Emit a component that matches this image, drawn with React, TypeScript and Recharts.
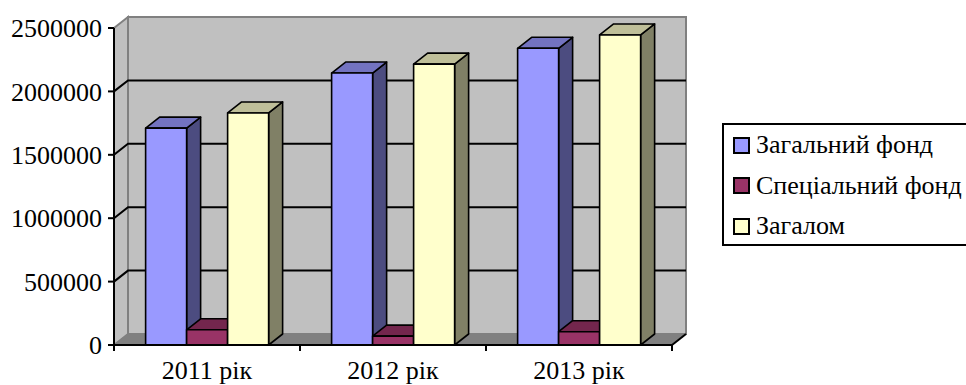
import React from 'react';
import { BarChart, Bar, XAxis, YAxis, CartesianGrid, ReferenceArea } from 'recharts';

const years = ['2011 рік', '2012 рік', '2013 рік'];
const generalFund = [1710000, 2145000, 2340000];
const specialFund = [120000, 70000, 105000];
const totalFund = [1830000, 2215000, 2445000];
const yTicks = [0, 500000, 1000000, 1500000, 2000000, 2500000];
const gridValues = [500000, 1000000, 1500000, 2000000];

const seriesNames = ['Загальний фонд', 'Спеціальний фонд', 'Загалом'];
const seriesKeys = ['general', 'special', 'total'];
// front, top, side
const seriesColors = [
  ['#9999FF', '#7373C0', '#4C4C80'],
  ['#993366', '#73264D', '#4D1A33'],
  ['#FFFFCC', '#BFBF99', '#808066'],
];

const FONT = "'Times New Roman', 'Liberation Serif', serif";
const DX = 14;
const DY = -11;

const data = years.map((year, i) => ({
  year,
  general: generalFund[i],
  special: specialFund[i],
  total: totalFund[i],
}));

const bar3D = (front: string, top: string, side: string) => (props: any) => {
  const { x, y, width: w, height: h } = props;
  if (w == null || h == null) return <g />;
  return (
    <g stroke="#000" strokeWidth={1.6} strokeLinejoin="round">
      <polygon points={`${x + w},${y} ${x + w + DX},${y + DY} ${x + w + DX},${y + h + DY} ${x + w},${y + h}`} fill={side} />
      <polygon points={`${x},${y} ${x + DX},${y + DY} ${x + w + DX},${y + DY} ${x + w},${y}`} fill={top} />
      <rect x={x} y={y} width={w} height={h} fill={front} />
    </g>
  );
};

const Walls = (props: any) => {
  const { x, y, width: w, height: h } = props;
  return (
    <g>
      <rect x={x + DX} y={y + DY} width={w} height={h} fill="#C0C0C0" stroke="#808080" strokeWidth={2} />
      <polygon points={`${x},${y} ${x + DX},${y + DY} ${x + DX},${y + h + DY} ${x},${y + h}`} fill="#C0C0C0" stroke="#808080" strokeWidth={2} />
      <polygon points={`${x},${y + h} ${x + DX},${y + h + DY} ${x + w + DX},${y + h + DY} ${x + w},${y + h}`} fill="#808080" stroke="#808080" strokeWidth={1} />
      <line x1={x + w} y1={y + h} x2={x + w + DX} y2={y + h + DY} stroke="#000" strokeWidth={2} />
    </g>
  );
};

const gridLine = (props: any) => {
  const { x1, y1, x2, index } = props;
  return (
    <polyline
      key={`g-${index}`}
      points={`${x1},${y1} ${x1 + DX},${y1 + DY} ${x2 + DX},${y1 + DY}`}
      fill="none"
      stroke="#000"
      strokeWidth={2}
    />
  );
};

const XTick = (props: any) => {
  const { x, y, payload, index } = props;
  const off = payload.offset ?? 0;
  const last = index === years.length - 1;
  return (
    <g>
      <line x1={x - off} y1={y - 6} x2={x - off} y2={y} stroke="#000" strokeWidth={2} />
      {last && <line x1={x + off} y1={y - 6} x2={x + off} y2={y} stroke="#000" strokeWidth={2} />}
      <text x={x} y={y + 28} textAnchor="middle" fontSize={26} fontFamily={FONT} fill="#000">
        {payload.value}
      </text>
    </g>
  );
};

export default function App() {
  return (
    <div style={{ position: 'fixed', left: 0, top: 0, width: 966, height: 385, overflow: 'hidden', background: '#fff' }}>
      <BarChart
        width={966}
        height={385}
        data={data}
        margin={{ top: 28, right: 294, bottom: 0, left: 0 }}
        barCategoryGap="17%"
        barGap={0}
      >
        <ReferenceArea y1={0} y2={2500000} ifOverflow="visible" shape={<Walls />} zIndex={-200} />
        <CartesianGrid
          vertical={false}
          horizontalValues={gridValues}
          horizontal={gridLine}
          zIndex={-100}
        />
        <XAxis
          dataKey="year"
          height={40}
          axisLine={{ stroke: '#000', strokeWidth: 2 }}
          tickLine={false}
          tickSize={6}
          tickMargin={0}
          interval={0}
          tick={<XTick />}
        />
        <YAxis
          width={114}
          domain={[0, 2500000]}
          ticks={yTicks}
          interval={0}
          axisLine={{ stroke: '#000', strokeWidth: 2 }}
          tickLine={{ stroke: '#000', strokeWidth: 2 }}
          tickSize={6}
          tickMargin={6}
          tick={{ fontSize: 26, fill: '#000', fontFamily: FONT }}
        />
        {seriesKeys.map((k, i) => (
          <Bar
            key={k}
            dataKey={k}
            name={seriesNames[i]}
            isAnimationActive={false}
            shape={bar3D(seriesColors[i][0], seriesColors[i][1], seriesColors[i][2])}
          />
        ))}
      </BarChart>
      <div
        style={{
          position: 'absolute',
          left: 722,
          top: 123,
          width: 260,
          height: 119,
          border: '2px solid #000',
          fontFamily: FONT,
          fontSize: 26,
          color: '#000',
        }}
      >
        {seriesNames.map((n, i) => (
          <div key={n} style={{ display: 'flex', alignItems: 'center', height: 40.5, whiteSpace: 'nowrap' }}>
            <span
              style={{
                display: 'inline-block',
                width: 13,
                height: 13,
                marginLeft: 9,
                marginRight: 6,
                background: seriesColors[i][0],
                border: '2px solid #000',
              }}
            />
            <span>{n}</span>
          </div>
        ))}
      </div>
    </div>
  );
}
